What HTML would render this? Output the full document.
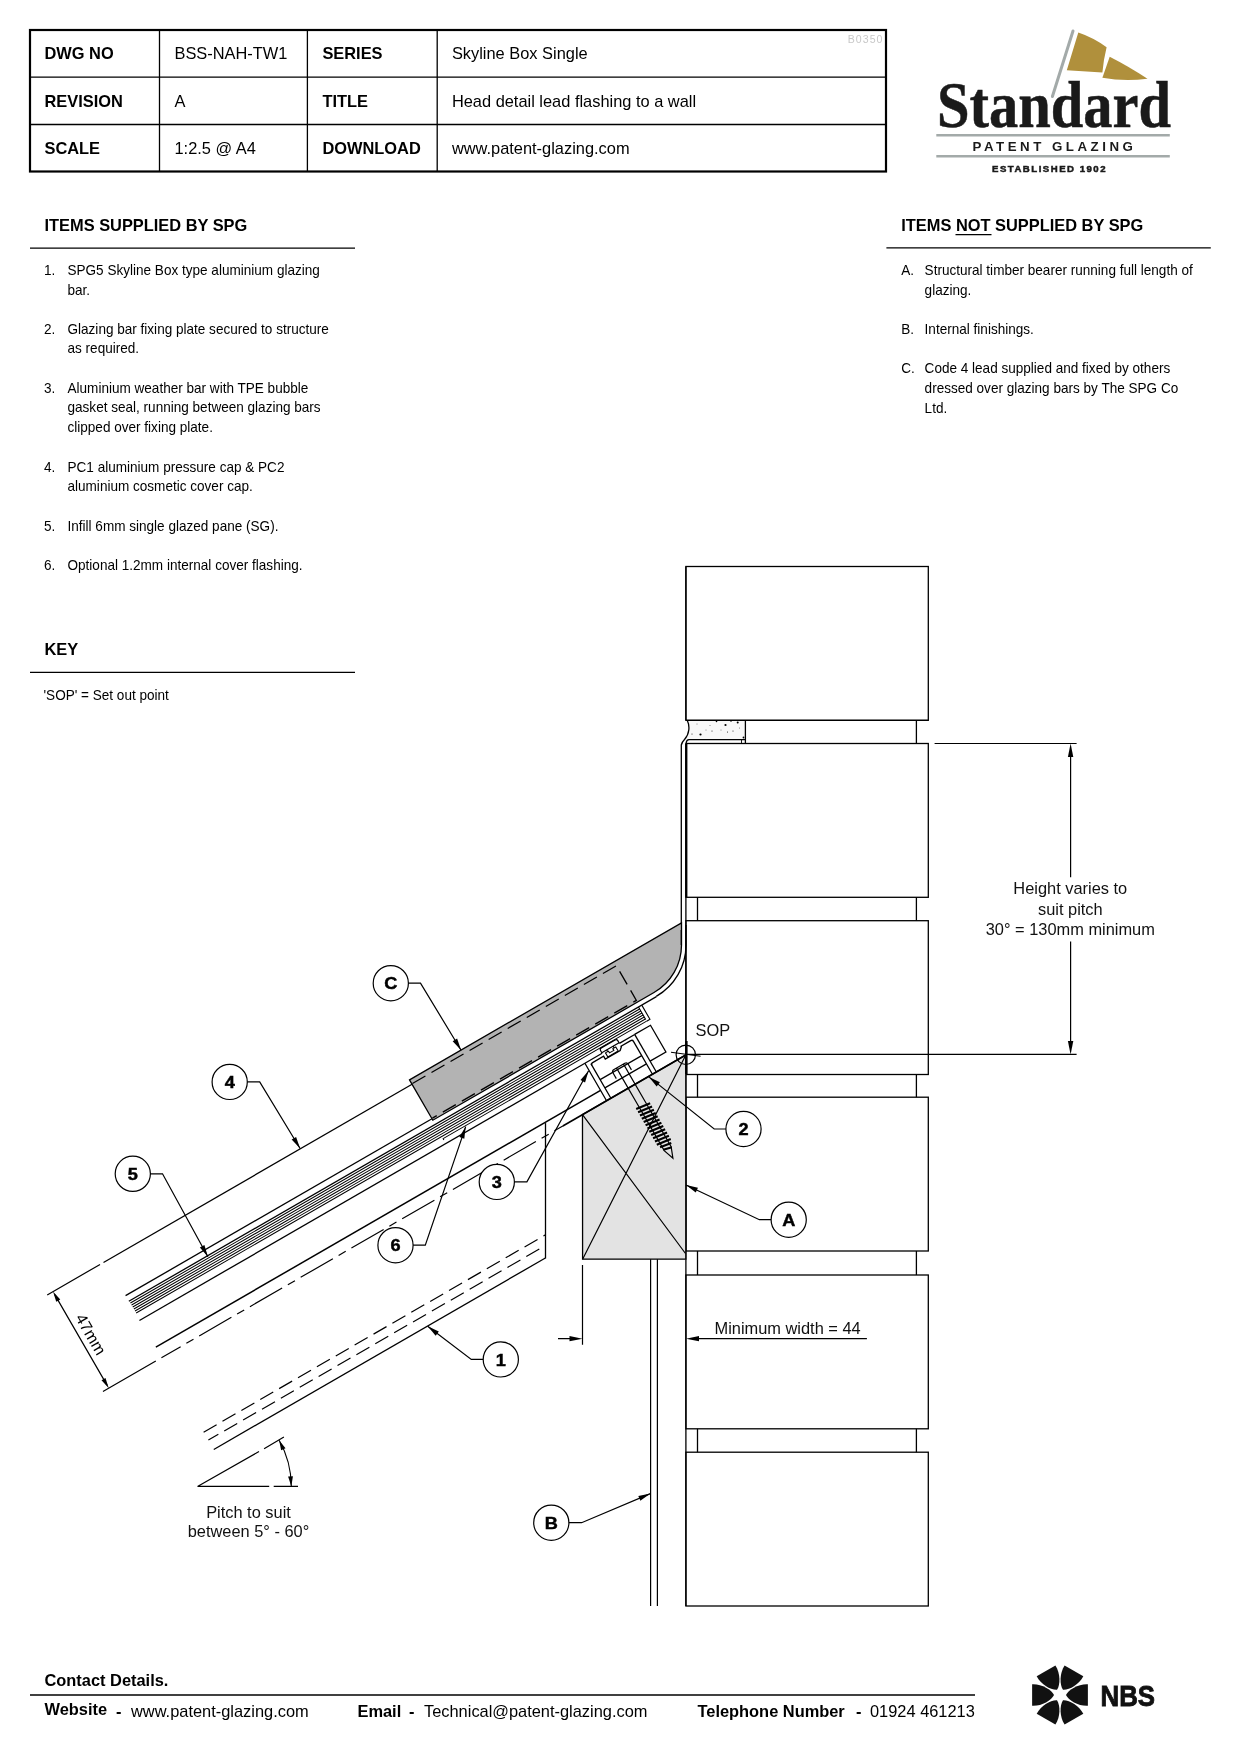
<!DOCTYPE html>
<html><head><meta charset="utf-8"><style>
html,body{margin:0;padding:0;background:#fff;}
svg{display:block;will-change:transform;}
</style></head><body>
<svg width="1240" height="1754" viewBox="0 0 1240 1754" font-family="'Liberation Sans', sans-serif">
<rect width="1240" height="1754" fill="#fff"/>
<g stroke="#000" fill="none">
<rect x="30" y="30" width="856" height="141.5" stroke-width="2.2"/>
<path d="M30 77.2H886M30 124.5H886M159.5 30V171.5M307.4 30V171.5M437.2 30V171.5" stroke-width="1.3"/>
</g>
<text x="44.5" y="58.9" font-size="16.4" font-weight="bold" fill="#000">DWG NO</text>
<text x="174.5" y="58.9" font-size="16.4" fill="#000">BSS-NAH-TW1</text>
<text x="322.4" y="58.9" font-size="16.4" font-weight="bold" fill="#000">SERIES</text>
<text x="451.9" y="58.9" font-size="16.4" fill="#000">Skyline Box Single</text>
<text x="44.5" y="106.9" font-size="16.4" font-weight="bold" fill="#000">REVISION</text>
<text x="174.5" y="106.9" font-size="16.4" fill="#000">A</text>
<text x="322.4" y="106.9" font-size="16.4" font-weight="bold" fill="#000">TITLE</text>
<text x="451.9" y="106.9" font-size="16.4" fill="#000">Head detail lead flashing to a wall</text>
<text x="44.5" y="153.9" font-size="16.4" font-weight="bold" fill="#000">SCALE</text>
<text x="174.5" y="153.9" font-size="16.4" fill="#000">1:2.5 @ A4</text>
<text x="322.4" y="153.9" font-size="16.4" font-weight="bold" fill="#000">DOWNLOAD</text>
<text x="451.9" y="153.9" font-size="16.4" fill="#000">www.patent-glazing.com</text>
<text transform="translate(847.8,42.5) scale(0.92,1)" font-size="11.5" fill="#c8c8c8" letter-spacing="1.1">B0350</text>
<text x="44.5" y="231" font-size="16.4" font-weight="bold" fill="#000">ITEMS SUPPLIED BY SPG</text>
<path d="M30 248.2H355" stroke="#000" stroke-width="1.3"/>
<text x="901.3" y="230.6" font-size="16.4" font-weight="bold" fill="#000">ITEMS NOT SUPPLIED BY SPG</text>
<path d="M955.5 234.6H991.5" stroke="#000" stroke-width="1.3"/>
<path d="M886.4 247.9H1210.8" stroke="#000" stroke-width="1.3"/>
<text transform="translate(44,274.7) scale(0.955,1)" font-size="14.2" fill="#000">1.</text>
<text transform="translate(67.5,274.7) scale(0.955,1)" font-size="14.2" fill="#000">SPG5 Skyline Box type aluminium glazing</text>
<text transform="translate(67.5,294.5) scale(0.955,1)" font-size="14.2" fill="#000">bar.</text>
<text transform="translate(44,333.6) scale(0.955,1)" font-size="14.2" fill="#000">2.</text>
<text transform="translate(67.5,333.6) scale(0.955,1)" font-size="14.2" fill="#000">Glazing bar fixing plate secured to structure</text>
<text transform="translate(67.5,353.40000000000003) scale(0.955,1)" font-size="14.2" fill="#000">as required.</text>
<text transform="translate(44,392.6) scale(0.955,1)" font-size="14.2" fill="#000">3.</text>
<text transform="translate(67.5,392.6) scale(0.955,1)" font-size="14.2" fill="#000">Aluminium weather bar with TPE bubble</text>
<text transform="translate(67.5,412.40000000000003) scale(0.955,1)" font-size="14.2" fill="#000">gasket seal, running between glazing bars</text>
<text transform="translate(67.5,432.20000000000005) scale(0.955,1)" font-size="14.2" fill="#000">clipped over fixing plate.</text>
<text transform="translate(44,471.6) scale(0.955,1)" font-size="14.2" fill="#000">4.</text>
<text transform="translate(67.5,471.6) scale(0.955,1)" font-size="14.2" fill="#000">PC1 aluminium pressure cap &amp; PC2</text>
<text transform="translate(67.5,491.40000000000003) scale(0.955,1)" font-size="14.2" fill="#000">aluminium cosmetic cover cap.</text>
<text transform="translate(44,530.5) scale(0.955,1)" font-size="14.2" fill="#000">5.</text>
<text transform="translate(67.5,530.5) scale(0.955,1)" font-size="14.2" fill="#000">Infill 6mm single glazed pane (SG).</text>
<text transform="translate(44,569.5) scale(0.955,1)" font-size="14.2" fill="#000">6.</text>
<text transform="translate(67.5,569.5) scale(0.955,1)" font-size="14.2" fill="#000">Optional 1.2mm internal cover flashing.</text>
<text transform="translate(901.3,274.7) scale(0.955,1)" font-size="14.2" fill="#000">A.</text>
<text transform="translate(924.6,274.7) scale(0.955,1)" font-size="14.2" fill="#000">Structural timber bearer running full length of</text>
<text transform="translate(924.6,294.5) scale(0.955,1)" font-size="14.2" fill="#000">glazing.</text>
<text transform="translate(901.3,333.7) scale(0.955,1)" font-size="14.2" fill="#000">B.</text>
<text transform="translate(924.6,333.7) scale(0.955,1)" font-size="14.2" fill="#000">Internal finishings.</text>
<text transform="translate(901.3,373.0) scale(0.955,1)" font-size="14.2" fill="#000">C.</text>
<text transform="translate(924.6,373.0) scale(0.955,1)" font-size="14.2" fill="#000">Code 4 lead supplied and fixed by others</text>
<text transform="translate(924.6,392.8) scale(0.955,1)" font-size="14.2" fill="#000">dressed over glazing bars by The SPG Co</text>
<text transform="translate(924.6,412.6) scale(0.955,1)" font-size="14.2" fill="#000">Ltd.</text>
<text x="44.5" y="654.5" font-size="16.4" font-weight="bold" fill="#000">KEY</text>
<path d="M30 672.3H355" stroke="#000" stroke-width="1.3"/>
<text transform="translate(43.5,699.7) scale(0.955,1)" font-size="14.2" fill="#000">'SOP' = Set out point</text>
<text x="44.5" y="1686" font-size="16.4" font-weight="bold" fill="#000">Contact Details.</text>
<path d="M30 1695H975" stroke="#000" stroke-width="1.3"/>
<text x="44.5" y="1715.0" font-size="16.4" font-weight="bold" fill="#000">Website</text>
<text x="116" y="1716.5" font-size="16.4" font-weight="bold" fill="#000">-</text>
<text x="131" y="1716.5" font-size="16.4" fill="#000">www.patent-glazing.com</text>
<text x="357.5" y="1716.5" font-size="16.4" font-weight="bold" fill="#000">Email</text>
<text x="409" y="1716.5" font-size="16.4" font-weight="bold" fill="#000">-</text>
<text x="424" y="1716.5" font-size="16.4" fill="#000">Technical@patent-glazing.com</text>
<text x="697.5" y="1716.5" font-size="16.4" font-weight="bold" fill="#000">Telephone Number</text>
<text x="856" y="1716.5" font-size="16.4" font-weight="bold" fill="#000">-</text>
<text x="870" y="1716.5" font-size="16.4" fill="#000">01924 461213</text>
<path d="M1073 31L1052.4 96.5" stroke="#a3aaa9" stroke-width="3" stroke-linecap="round"/>
<path d="M1078.3 32.6Q1093 37.5 1106.6 47.3Q1103.5 60 1102.4 72.4L1066.8 70.3Z" fill="#b0903c"/>
<path d="M1109.7 56.7Q1128 66 1147.5 78.7Q1124 81.5 1102.4 77.7Z" fill="#b0903c"/>
<text transform="translate(937,126.5) scale(0.9,1)" font-family="'Liberation Serif', serif" font-weight="bold" font-size="65" fill="#1a1a1a" stroke="#1a1a1a" stroke-width="0.5">Standard</text>
<path d="M936.3 135.2H1169.8M936.3 156.3H1169.8" stroke="#a3aaa9" stroke-width="2.6"/>
<text x="972.6" y="150.8" font-size="13.3" font-weight="bold" letter-spacing="3.5" fill="#1a1a1a">PATENT GLAZING</text>
<text x="992" y="171.7" font-size="9.6" font-weight="bold" letter-spacing="1.5" fill="#1a1a1a" stroke="#1a1a1a" stroke-width="0.5">ESTABLISHED 1902</text>
<g transform="translate(1060,1695)" fill="#111">
<path transform="rotate(0)" d="M-6.0 0C-8.8 -5.6 -18.5 -11.3 -27.9 -10.8V10.8C-18.5 11.3 -8.8 5.6 -6.0 0Z"/>
<path transform="rotate(60)" d="M-6.0 0C-8.8 -5.6 -18.5 -11.3 -27.9 -10.8V10.8C-18.5 11.3 -8.8 5.6 -6.0 0Z"/>
<path transform="rotate(120)" d="M-6.0 0C-8.8 -5.6 -18.5 -11.3 -27.9 -10.8V10.8C-18.5 11.3 -8.8 5.6 -6.0 0Z"/>
<path transform="rotate(180)" d="M-6.0 0C-8.8 -5.6 -18.5 -11.3 -27.9 -10.8V10.8C-18.5 11.3 -8.8 5.6 -6.0 0Z"/>
<path transform="rotate(240)" d="M-6.0 0C-8.8 -5.6 -18.5 -11.3 -27.9 -10.8V10.8C-18.5 11.3 -8.8 5.6 -6.0 0Z"/>
<path transform="rotate(300)" d="M-6.0 0C-8.8 -5.6 -18.5 -11.3 -27.9 -10.8V10.8C-18.5 11.3 -8.8 5.6 -6.0 0Z"/>
</g>
<text transform="translate(1100.5,1705.8) scale(0.86,1)" font-size="30" font-weight="bold" fill="#111" stroke="#111" stroke-width="0.9">NBS</text>
<g fill="none" stroke="#000" stroke-width="1.3">
<rect x="685.9" y="566.5" width="242.4" height="153.8"/>
<rect x="685.9" y="743.5" width="242.4" height="153.8"/>
<rect x="685.9" y="920.7" width="242.4" height="153.8"/>
<rect x="685.9" y="1097.2" width="242.4" height="153.8"/>
<rect x="685.9" y="1275.0" width="242.4" height="153.8"/>
<rect x="685.9" y="1452.2" width="242.4" height="153.8"/>
<path d="M916.4 720.3V743.5"/>
<path d="M916.4 897.3V920.7"/>
<path d="M697.5 897.3V920.7"/>
<path d="M916.4 1074.5V1097.2"/>
<path d="M697.5 1074.5V1097.2"/>
<path d="M916.4 1251.0V1275.0"/>
<path d="M697.5 1251.0V1275.0"/>
<path d="M916.4 1428.8V1452.2"/>
<path d="M697.5 1428.8V1452.2"/>
<path d="M685.9 566.5V720.3M685.9 743.5V1606"/>
</g>
<path d="M687.3 720.3H745.4V739.6H684.5C689.5 734 690 726 687.3 720.3Z" fill="#f8f8f8" stroke="none"/>
<g fill="none" stroke="#000" stroke-width="1.3">
<path d="M685.9 720.3H928.3M745.4 720.3V743.5"/>
<path d="M687.3 720.5C690 726 689.5 734 684.5 739.5Q682 742 681.3 745V930"/>
<path d="M745 739.6H689Q686.5 739.6 686.2 743"/>
<path d="M741.5 739.6V743.5" stroke-width="0.9"/>
</g>
<circle cx="700.5" cy="734.5" r="1.1" fill="#000"/>
<circle cx="725.5" cy="725" r="1.1" fill="#000"/>
<circle cx="737.7" cy="722.5" r="1.0" fill="#000"/>
<circle cx="692" cy="734" r="0.5" fill="#000"/>
<circle cx="712" cy="731" r="0.5" fill="#000"/>
<circle cx="721" cy="730" r="0.4" fill="#000"/>
<circle cx="733" cy="731" r="0.5" fill="#000"/>
<circle cx="743.5" cy="737.5" r="0.9" fill="#000"/>
<circle cx="716.5" cy="721.5" r="0.8" fill="#000"/>
<circle cx="706" cy="730" r="0.4" fill="#000"/>
<circle cx="727.5" cy="732" r="0.5" fill="#000"/>
<circle cx="697" cy="724" r="0.4" fill="#000"/>
<circle cx="739.5" cy="728" r="0.4" fill="#000"/>
<circle cx="710" cy="725.5" r="0.4" fill="#000"/>
<circle cx="731" cy="721.5" r="0.6" fill="#000"/>
<path d="M686.4 744V897" stroke="#000" stroke-width="2.0"/>
<path d="M582.48 1114.65L685.8 1055L685.8 1259.2L582.6 1259.2Z" fill="#e3e3e3" stroke="#000" stroke-width="1.3"/>
<path d="M582.48 1114.65L685.5 1253.5M582.6 1259.2L685.8 1055" stroke="#000" stroke-width="1.2" fill="none"/>
<path d="M650.6 1259.2V1606M657.4 1259.2V1606" stroke="#000" stroke-width="1.2" fill="none"/>
<path d="M409.52 1079.87L681.50 922.84L681.50 944.90A55.0 55.0 0 0 1 654.00 992.53L432.82 1120.23Z" fill="#b3b3b3" stroke="#000" stroke-width="1.3"/>
<path d="M681.3 930V944.90" stroke="#000" stroke-width="1.3" fill="none"/>
<path d="M686 924.90V944.90A59.5 59.5 0 0 1 656.25 996.43" stroke="#000" stroke-width="1.3" fill="none"/>
<g transform="translate(685.8,1055.0) rotate(-30)" fill="none" stroke="#000" stroke-width="1.3">
<path d="M-673 -111.5H-612M-673 0H-612M-666.3 -108V-3.5" stroke-width="1.2"/>
<path d="M-666.3 -111.5L-668.6 -101L-664 -101Z" fill="#000" stroke="none"/>
<path d="M-666.3 0L-668.6 -10.5L-664 -10.5Z" fill="#000" stroke="none"/>
<text transform="translate(-660.5,-55.6) rotate(90)" font-size="16" text-anchor="middle" fill="#000" stroke="none">47mm</text>
<path d="M-608 -111.5H-251.7"/>
<path d="M-605.5 -71.7H-251.7"/>
<path d="M-605.5 -65.2H3.70"/>
<path d="M-605 -62.90H-17M-605 -60.60H-17M-605 -58.30H-17M-605 -56.00H-17M-605 -53.70H-17M-605 -51.40H-17" stroke-width="1.0"/>
<path d="M-17 -65.2V-50.8M-13.2 -65.2V-48.8H-17" stroke-width="1.1"/>
<path d="M-252 -47.3V-48.9H-17" stroke-width="1.0"/>
<path d="M-605.9 -43.3H-91.5"/>
<path d="M-605 -12H-91.5" stroke-width="1.5"/>
<path d="M-605.5 0H-142" stroke-dasharray="37.2 6.6 8.2 6.6" stroke-dashoffset="15" stroke-width="1.2"/>
<path d="M-142 0H0" stroke-width="1.6"/>
<path d="M-606.2 85.6H-211.4" stroke-dasharray="15 6.8" stroke-width="1.2"/>
<path d="M-606 94.8H-216.7" stroke-dasharray="15 6.8" stroke-dashoffset="3.5" stroke-width="1.2"/>
<path d="M-606 105.6H-223.1" stroke-width="1.3"/>
<path d="M-251 -112H-15.5V-72H-251" stroke-dasharray="15 7" stroke-width="1.3"/>
<path d="M-91.5 -43.3V0M-86.5 -40V0" stroke-width="1.3"/>
<path d="M-86.5 -38Q-86.5 -40 -84.5 -40H-71.8V-36.7H-54.6L-51.7 -39.3V-40H-40.5Q-38.5 -40 -38.5 -38V0"/>
<path d="M-71.6 -46.5Q-71.6 -48.4 -69.6 -48.4H-53.7Q-51.7 -48.4 -51.7 -46.5V-44H-71.6Z" stroke-width="1.2"/>
<path d="M-68.5 -42V-37.2H-56.6V-42H-60V-40H-65V-42Z" stroke-width="1.1"/>
<path d="M-66 -44V-42M-58.5 -44V-42" stroke-width="1.1"/>
<path d="M-91.5 -43.3H-71.6M-51.7 -43.3H-34"/>
<path d="M-34 -43.4V0"/>
<path d="M-34 -43.4H-15.7V-12.6H-34"/>
<path d="M-86.5 -21.5H-38.5M-86.5 -12H-38.5" stroke-width="1.2"/>
<path d="M-72 -14.3V-21Q-72 -23.3 -69.5 -23.3H-57Q-54.5 -23.3 -54.5 -21V-14.3M-66.5 -23.3V-14.3M-58.5 -23.3V-14.3" stroke-width="1.2"/>
<path d="M-66.5 -14.3V22M-58.5 -14.3V22" stroke-width="1.2"/>
<path d="M-70.0 22.0L-55.0 24.0M-70.0 25.8L-55.0 27.8M-70.0 29.5L-55.0 31.5M-70.0 33.2L-55.0 35.2M-70.0 37.0L-55.0 39.0M-70.0 40.8L-55.0 42.8M-70.0 44.5L-55.0 46.5M-70.0 48.2L-55.0 50.2M-70.0 52.0L-55.0 54.0M-70.0 55.8L-55.0 57.8M-70.0 59.5L-55.0 61.5M-70.0 63.2L-55.0 65.2M-68.4 67.0L-56.6 69.0M-66.8 70.8L-58.2 72.8" stroke-width="2.1"/>
<path d="M-66.5 22L-66.5 72L-62.8 83L-58.5 72V22" stroke-width="1.2"/>
</g>
<path d="M545.5 1123.1V1258.5" stroke="#000" stroke-width="1.3" fill="none"/>
<circle cx="685.8" cy="1054.8" r="9.7" fill="none" stroke="#000" stroke-width="1.2"/>
<path d="M671 1052.3L700.6 1056.3" stroke="#000" stroke-width="1.1"/>
<path d="M686.4 1041V1074" stroke="#000" stroke-width="2.4"/>
<g stroke="#000" stroke-width="1.2" fill="none">
<path d="M934.6 743.5H1076.6M686 1054.4H1076.6M1070.6 750V877.3M1070.6 941.4V1047"/>
</g>
<path d="M1070.60 743.50L1073.30 757.00L1067.90 757.00Z" fill="#000"/>
<path d="M1070.60 1054.40L1067.90 1040.90L1073.30 1040.90Z" fill="#000"/>
<path d="M582.5 1265V1344.7M558 1338.7H575M694 1338.7H866.9" stroke="#000" stroke-width="1.2" fill="none"/>
<path d="M582.50 1338.70L569.50 1341.30L569.50 1336.10Z" fill="#000"/>
<path d="M686.00 1338.70L699.00 1336.10L699.00 1341.30Z" fill="#000"/>
<path d="M197.5 1486.4H269.2M273.7 1486.4H298M197.5 1486.4L259 1451.6M264.1 1448.8L283.9 1436.9" stroke="#000" stroke-width="1.2" fill="none"/>
<path d="M279.14 1440.21A93.8 93.8 0 0 1 291.30 1486.40" stroke="#000" stroke-width="1.1" fill="none"/>
<path d="M279.14 1440.21L285.51 1448.29L281.15 1450.30Z" fill="#000"/>
<path d="M291.30 1486.40L288.12 1476.62L292.91 1476.24Z" fill="#000"/>
<circle cx="390.8" cy="983.2" r="17.6" fill="#fff" stroke="#000" stroke-width="1.2"/>
<path d="M408.40 983.20L420.50 983.20L461.10 1050.20" stroke="#000" stroke-width="1.2" fill="none"/>
<path d="M461.10 1050.20L452.66 1041.28L457.10 1038.59Z" fill="#000"/>
<text transform="translate(390.8,989.3000000000001) scale(1.08,1)" font-size="16.8" font-weight="bold" text-anchor="middle" fill="#000" stroke="#000" stroke-width="0.45">C</text>
<circle cx="229.7" cy="1081.9" r="17.6" fill="#fff" stroke="#000" stroke-width="1.2"/>
<path d="M247.30 1081.90L259.70 1081.90L300.10 1148.50" stroke="#000" stroke-width="1.2" fill="none"/>
<path d="M300.10 1148.50L291.65 1139.59L296.10 1136.89Z" fill="#000"/>
<text transform="translate(229.7,1088.0) scale(1.08,1)" font-size="16.8" font-weight="bold" text-anchor="middle" fill="#000" stroke="#000" stroke-width="0.45">4</text>
<circle cx="132.8" cy="1173.8" r="17.6" fill="#fff" stroke="#000" stroke-width="1.2"/>
<path d="M150.40 1173.80L162.50 1173.80L207.90 1256.70" stroke="#000" stroke-width="1.2" fill="none"/>
<path d="M207.90 1256.70L199.86 1247.42L204.42 1244.93Z" fill="#000"/>
<text transform="translate(132.8,1179.8999999999999) scale(1.08,1)" font-size="16.8" font-weight="bold" text-anchor="middle" fill="#000" stroke="#000" stroke-width="0.45">5</text>
<circle cx="496.8" cy="1181.9" r="17.6" fill="#fff" stroke="#000" stroke-width="1.2"/>
<path d="M514.40 1181.90L526.90 1181.90L588.60 1070.80" stroke="#000" stroke-width="1.2" fill="none"/>
<path d="M588.60 1070.80L585.05 1082.55L580.50 1080.03Z" fill="#000"/>
<text transform="translate(496.8,1188.0) scale(1.08,1)" font-size="16.8" font-weight="bold" text-anchor="middle" fill="#000" stroke="#000" stroke-width="0.45">3</text>
<circle cx="395.5" cy="1245.2" r="17.6" fill="#fff" stroke="#000" stroke-width="1.2"/>
<path d="M413.10 1245.20L425.30 1245.20L465.70 1126.60" stroke="#000" stroke-width="1.2" fill="none"/>
<path d="M465.70 1126.60L464.29 1138.80L459.37 1137.12Z" fill="#000"/>
<text transform="translate(395.5,1251.3) scale(1.08,1)" font-size="16.8" font-weight="bold" text-anchor="middle" fill="#000" stroke="#000" stroke-width="0.45">6</text>
<circle cx="743.5" cy="1129.0" r="17.6" fill="#fff" stroke="#000" stroke-width="1.2"/>
<path d="M725.90 1129.00L714.20 1129.00L648.90 1076.90" stroke="#000" stroke-width="1.2" fill="none"/>
<path d="M648.90 1076.90L659.90 1082.35L656.66 1086.42Z" fill="#000"/>
<text transform="translate(743.5,1135.1) scale(1.08,1)" font-size="16.8" font-weight="bold" text-anchor="middle" fill="#000" stroke="#000" stroke-width="0.45">2</text>
<circle cx="788.7" cy="1219.7" r="17.6" fill="#fff" stroke="#000" stroke-width="1.2"/>
<path d="M771.10 1219.70L759.40 1219.70L686.00 1185.00" stroke="#000" stroke-width="1.2" fill="none"/>
<path d="M686.00 1185.00L697.96 1187.78L695.74 1192.48Z" fill="#000"/>
<text transform="translate(788.7,1225.8) scale(1.08,1)" font-size="16.8" font-weight="bold" text-anchor="middle" fill="#000" stroke="#000" stroke-width="0.45">A</text>
<circle cx="500.8" cy="1359.4" r="17.6" fill="#fff" stroke="#000" stroke-width="1.2"/>
<path d="M483.20 1359.40L471.30 1359.40L427.70 1326.30" stroke="#000" stroke-width="1.2" fill="none"/>
<path d="M427.70 1326.30L438.83 1331.49L435.69 1335.63Z" fill="#000"/>
<text transform="translate(500.8,1365.5) scale(1.08,1)" font-size="16.8" font-weight="bold" text-anchor="middle" fill="#000" stroke="#000" stroke-width="0.45">1</text>
<circle cx="551.3" cy="1522.7" r="17.6" fill="#fff" stroke="#000" stroke-width="1.2"/>
<path d="M568.90 1522.70L581.60 1522.70L650.40 1493.60" stroke="#000" stroke-width="1.2" fill="none"/>
<path d="M650.40 1493.60L640.36 1500.67L638.34 1495.88Z" fill="#000"/>
<text transform="translate(551.3,1528.8) scale(1.08,1)" font-size="16.8" font-weight="bold" text-anchor="middle" fill="#000" stroke="#000" stroke-width="0.45">B</text>
<text x="695.5" y="1035.6" font-size="16.4" fill="#111">SOP</text>
<text x="1070.3" y="894.2" font-size="16.4" text-anchor="middle" fill="#111">Height varies to</text>
<text x="1070.3" y="914.5" font-size="16.4" text-anchor="middle" fill="#111">suit pitch</text>
<text x="1070.3" y="934.7" font-size="16.4" text-anchor="middle" fill="#111">30° = 130mm minimum</text>
<text x="714.5" y="1333.5" font-size="16.4" fill="#111">Minimum width = 44</text>
<text x="248.5" y="1517.7" font-size="16.4" text-anchor="middle" fill="#111">Pitch to suit</text>
<text x="248.5" y="1537.4" font-size="16.4" text-anchor="middle" fill="#111">between 5° - 60°</text>
</svg></body></html>
